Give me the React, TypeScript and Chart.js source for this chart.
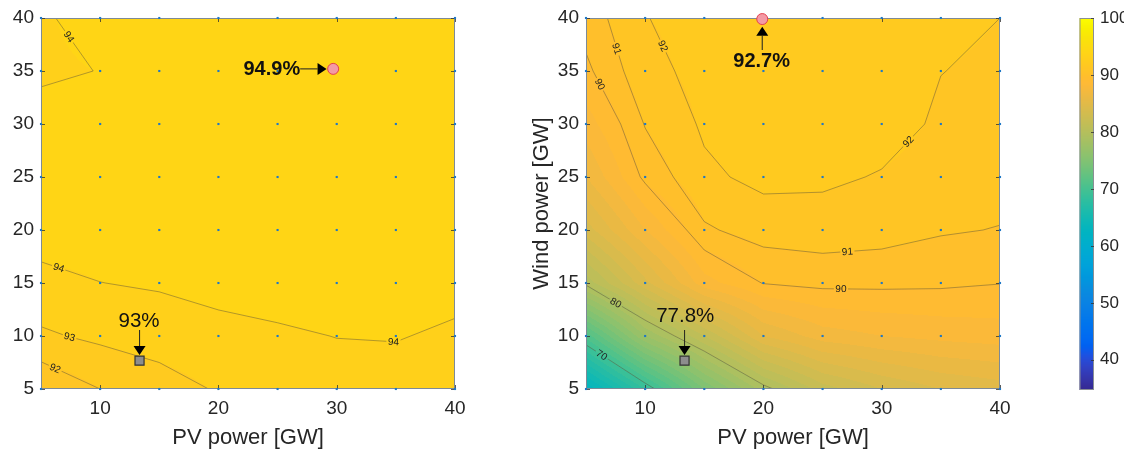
import React, { useEffect, useRef } from "react";
import { Chart, registerables } from "chart.js";

Chart.register(...registerables);

const FONT = '"Liberation Sans", Arial, Helvetica, sans-serif';
const TEXT = "#262626";

// ---- data ----
const PV_GRID = [5, 10, 15, 20, 25, 30, 35, 40];
const WIND_GRID = [5, 10, 15, 20, 25, 30, 35, 40];
const X_TICKS = [10, 20, 30, 40];
const Y_TICKS = [5, 10, 15, 20, 25, 30, 35, 40];
const CBAR_TICKS = [40, 50, 60, 70, 80, 90, 100];
const CBAR_MIN = 34.7;
const CBAR_MAX = 100;
const FILL_STEP = 1;
const CONTOUR_LEVELS = [70, 80, 90, 91, 92, 93, 94];

// rows: wind = 5..40, columns: PV = 5..40 (values in %)
const LEFT_VALUES = [
  [91.1, 92.0, 92.5, 93.1, 93.4, 93.55, 93.6, 93.5],
  [92.85, 93.2, 93.5, 93.7, 93.85, 94.02, 94.05, 93.85],
  [93.7, 93.99, 94.1, 94.31, 94.45, 94.5, 94.45, 94.3],
  [94.45, 94.45, 94.6, 94.7, 94.75, 94.75, 94.7, 94.6],
  [94.5, 94.6, 94.75, 94.8, 94.85, 94.85, 94.8, 94.7],
  [94.35, 94.5, 94.8, 94.85, 94.88, 94.88, 94.85, 94.75],
  [93.85, 94.02, 94.75, 94.85, 94.88, 94.9, 94.85, 94.75],
  [93.9, 94.3, 94.7, 94.8, 94.85, 94.85, 94.8, 94.7],
];

const RIGHT_VALUES = [
  [63.0, 69.0, 75.0, 79.5, 82.5, 84.0, 85.0, 85.5],
  [71.4, 78.0, 82.0, 86.0, 87.5, 88.0, 88.3, 88.5],
  [80.36, 84.7, 88.6, 90.05, 90.3, 90.27, 90.2, 90.03],
  [84.5, 88.0, 90.85, 91.45, 91.55, 91.41, 91.1, 90.96],
  [87.0, 90.27, 91.8, 92.26, 92.18, 91.93, 91.6, 91.4],
  [88.5, 91.06, 92.15, 92.5, 92.5, 92.4, 91.85, 91.65],
  [89.77, 91.7, 92.3, 92.65, 92.6, 92.45, 92.015, 91.85],
  [90.45, 91.97, 92.35, 92.7, 92.6, 92.45, 92.2, 92.0],
];

const LEFT_LABELS = [
  { level: 94, pv: 7.33, wind: 38.2 },
  { level: 94, pv: 6.5, wind: 16.45 },
  { level: 94, pv: 34.8, wind: 9.56 },
  { level: 93, pv: 7.4, wind: 9.87 },
  { level: 92, pv: 6.2, wind: 6.95 },
];

const RIGHT_LABELS = [
  { level: 91, pv: 7.6, wind: 37.1 },
  { level: 92, pv: 11.4, wind: 37.3 },
  { level: 90, pv: 6.1, wind: 33.7 },
  { level: 92, pv: 32.1, wind: 28.5 },
  { level: 91, pv: 27.1, wind: 17.95 },
  { level: 90, pv: 26.55, wind: 14.3 },
  { level: 80, pv: 7.45, wind: 13.0 },
  { level: 70, pv: 6.27, wind: 8.1 },
];

const LEFT_BEST = { pv: 29.7, wind: 35.2, value: "94.9%" };
const LEFT_BASE = { pv: 13.33, wind: 7.67, value: "93%" };
const RIGHT_BEST = { pv: 19.9, wind: 39.9, value: "92.7%" };
const RIGHT_BASE = { pv: 13.33, wind: 7.67, value: "77.8%" };

// ---- colormap (parula) ----
const PARULA = [
[0.2081,0.1663,0.5292],[0.2116,0.1898,0.5777],[0.2123,0.2138,0.6270],[0.2081,0.2386,0.6771],
[0.1959,0.2645,0.7279],[0.1707,0.2919,0.7792],[0.1253,0.3242,0.8303],[0.0591,0.3598,0.8683],
[0.0117,0.3875,0.8820],[0.0060,0.4086,0.8828],[0.0165,0.4266,0.8786],[0.0329,0.4430,0.8720],
[0.0498,0.4586,0.8641],[0.0629,0.4737,0.8554],[0.0723,0.4887,0.8467],[0.0779,0.5040,0.8384],
[0.0793,0.5200,0.8312],[0.0749,0.5375,0.8263],[0.0641,0.5570,0.8240],[0.0488,0.5772,0.8228],
[0.0343,0.5966,0.8199],[0.0265,0.6137,0.8135],[0.0239,0.6287,0.8038],[0.0231,0.6418,0.7913],
[0.0228,0.6535,0.7768],[0.0267,0.6642,0.7607],[0.0384,0.6743,0.7436],[0.0590,0.6838,0.7254],
[0.0843,0.6928,0.7062],[0.1133,0.7015,0.6859],[0.1453,0.7098,0.6646],[0.1801,0.7177,0.6424],
[0.2178,0.7250,0.6193],[0.2586,0.7317,0.5954],[0.3022,0.7376,0.5712],[0.3482,0.7424,0.5473],
[0.3953,0.7459,0.5244],[0.4420,0.7481,0.5033],[0.4871,0.7491,0.4840],[0.5300,0.7491,0.4661],
[0.5709,0.7485,0.4494],[0.6099,0.7473,0.4337],[0.6473,0.7456,0.4188],[0.6834,0.7435,0.4044],
[0.7184,0.7411,0.3905],[0.7525,0.7384,0.3768],[0.7858,0.7356,0.3633],[0.8185,0.7327,0.3498],
[0.8507,0.7299,0.3360],[0.8824,0.7274,0.3217],[0.9139,0.7258,0.3063],[0.9450,0.7261,0.2886],
[0.9739,0.7314,0.2666],[0.9938,0.7455,0.2403],[0.9990,0.7653,0.2164],[0.9955,0.7861,0.1967],
[0.9880,0.8066,0.1794],[0.9789,0.8271,0.1633],[0.9697,0.8481,0.1475],[0.9626,0.8705,0.1309],
[0.9589,0.8949,0.1132],[0.9598,0.9218,0.0948],[0.9661,0.9514,0.0755],[0.9763,0.9831,0.0538]];
const SAT = 1.12;

function colorFor(value: number): number[] {
  const t = Math.max(0, Math.min(1, (value - CBAR_MIN) / (CBAR_MAX - CBAR_MIN)));
  const tt = t * (PARULA.length - 1);
  const i = Math.min(PARULA.length - 2, Math.floor(tt));
  const f = tt - i;
  const c = [0, 1, 2].map((k) => (PARULA[i][k] * (1 - f) + PARULA[i + 1][k] * f) * 255);
  const L = 0.299 * c[0] + 0.587 * c[1] + 0.114 * c[2];
  return c.map((v) => Math.max(0, Math.min(255, Math.round(L + (v - L) * SAT))));
}

function cellIndex(arr: number[], v: number) {
  let i = 0;
  while (i < arr.length - 2 && v > arr[i + 1]) i++;
  return i;
}

function bilinear(Z: number[][], x: number, y: number) {
  const i = cellIndex(PV_GRID, x);
  const j = cellIndex(WIND_GRID, y);
  const u = Math.max(0, Math.min(1, (x - PV_GRID[i]) / (PV_GRID[i + 1] - PV_GRID[i])));
  const v = Math.max(0, Math.min(1, (y - WIND_GRID[j]) / (WIND_GRID[j + 1] - WIND_GRID[j])));
  return (
    Z[j][i] * (1 - u) * (1 - v) +
    Z[j][i + 1] * u * (1 - v) +
    Z[j + 1][i] * (1 - u) * v +
    Z[j + 1][i + 1] * u * v
  );
}

function contourSegments(Z: number[][], L: number) {
  const segs: number[][][] = [];
  for (let j = 0; j < WIND_GRID.length - 1; j++) {
    for (let i = 0; i < PV_GRID.length - 1; i++) {
      const x0 = PV_GRID[i], x1 = PV_GRID[i + 1], y0 = WIND_GRID[j], y1 = WIND_GRID[j + 1];
      const a = Z[j][i], b = Z[j][i + 1], c = Z[j + 1][i + 1], d = Z[j + 1][i];
      const pts: number[][] = [];
      const edge = (va: number, vb: number, pa: number[], pb: number[]) => {
        if ((va >= L) !== (vb >= L)) {
          const t = (L - va) / (vb - va);
          pts.push([pa[0] + t * (pb[0] - pa[0]), pa[1] + t * (pb[1] - pa[1])]);
        }
      };
      edge(a, b, [x0, y0], [x1, y0]);
      edge(b, c, [x1, y0], [x1, y1]);
      edge(c, d, [x1, y1], [x0, y1]);
      edge(d, a, [x0, y1], [x0, y0]);
      if (pts.length === 2) segs.push([pts[0], pts[1]]);
      else if (pts.length === 4) {
        const center = (a + b + c + d) / 4;
        if ((center >= L) === (a >= L)) {
          segs.push([pts[0], pts[1]]);
          segs.push([pts[2], pts[3]]);
        } else {
          segs.push([pts[0], pts[3]]);
          segs.push([pts[1], pts[2]]);
        }
      }
    }
  }
  return segs;
}

function makeFieldPlugin(Z: number[][], labels: any[]) {
  return {
    id: "contourField",
    beforeDatasetsDraw(chart: any) {
      const ctx = chart.ctx;
      const xs = chart.scales.x, ys = chart.scales.y;
      const area = chart.chartArea;
      const dpr = chart.currentDevicePixelRatio || 1;
      const W = Math.round((area.right - area.left) * dpr);
      const H = Math.round((area.bottom - area.top) * dpr);
      const img = ctx.createImageData(W, H);
      const cache = new Map<number, number[]>();
      const xv = new Float64Array(W);
      for (let px = 0; px < W; px++) xv[px] = xs.getValueForPixel(area.left + (px + 0.5) / dpr);
      for (let py = 0; py < H; py++) {
        const yv = ys.getValueForPixel(area.top + (py + 0.5) / dpr);
        for (let px = 0; px < W; px++) {
          const v = bilinear(Z, xv[px], yv);
          const lvl = Math.floor(v / FILL_STEP + 1e-9) * FILL_STEP;
          let c = cache.get(lvl);
          if (!c) { c = colorFor(lvl); cache.set(lvl, c); }
          const o = (py * W + px) * 4;
          img.data[o] = c[0]; img.data[o + 1] = c[1]; img.data[o + 2] = c[2]; img.data[o + 3] = 255;
        }
      }
      ctx.putImageData(img, Math.round(area.left * dpr), Math.round(area.top * dpr));

      // contour lines in pixel space
      const byLevel = new Map<number, number[][][]>();
      for (const L of CONTOUR_LEVELS) {
        byLevel.set(L, contourSegments(Z, L).map((s) => s.map((p) => [xs.getPixelForValue(p[0]), ys.getPixelForValue(p[1])])));
      }
      ctx.save();
      ctx.font = `10px ${FONT}`;
      const placed: any[] = [];
      for (const lb of labels) {
        const segs = byLevel.get(lb.level) || [];
        const tx = xs.getPixelForValue(lb.pv), ty = ys.getPixelForValue(lb.wind);
        let best: any = null;
        for (const s of segs) {
          const [p, q] = s;
          const dx = q[0] - p[0], dy = q[1] - p[1];
          const len2 = dx * dx + dy * dy || 1;
          let t = ((tx - p[0]) * dx + (ty - p[1]) * dy) / len2;
          t = Math.max(0, Math.min(1, t));
          const cx = p[0] + t * dx, cy = p[1] + t * dy;
          const d = (cx - tx) ** 2 + (cy - ty) ** 2;
          if (!best || d < best.d) best = { d, cx, cy, ang: Math.atan2(dy, dx) };
        }
        if (!best) continue;
        let a = best.ang;
        if (a > Math.PI / 2) a -= Math.PI;
        if (a <= -Math.PI / 2) a += Math.PI;
        const text = String(lb.level);
        const w = ctx.measureText(text).width;
        placed.push({ x: best.cx, y: best.cy, a, text, hw: w / 2 + 1.5, hh: 4.5 });
      }
      ctx.restore();

      ctx.save();
      ctx.beginPath();
      ctx.rect(area.left, area.top, area.right - area.left, area.bottom - area.top);
      for (const p of placed) {
        const cs = Math.cos(p.a), sn = Math.sin(p.a);
        const corners = [[-1, -1], [1, -1], [1, 1], [-1, 1]].map(([sx, sy]) => [
          p.x + sx * p.hw * cs - sy * p.hh * sn,
          p.y + sx * p.hw * sn + sy * p.hh * cs,
        ]);
        ctx.moveTo(corners[0][0], corners[0][1]);
        for (let k = 1; k < 4; k++) ctx.lineTo(corners[k][0], corners[k][1]);
        ctx.closePath();
      }
      ctx.clip("evenodd");
      ctx.strokeStyle = "rgba(85,80,60,0.65)";
      ctx.lineWidth = 0.7;
      for (const segs of byLevel.values()) {
        ctx.beginPath();
        for (const s of segs) {
          ctx.moveTo(s[0][0], s[0][1]);
          ctx.lineTo(s[1][0], s[1][1]);
        }
        ctx.stroke();
      }
      ctx.restore();

      ctx.save();
      ctx.fillStyle = "#222";
      ctx.font = `10px ${FONT}`;
      ctx.textAlign = "center";
      ctx.textBaseline = "middle";
      for (const p of placed) {
        ctx.save();
        ctx.translate(p.x, p.y);
        ctx.rotate(p.a);
        ctx.fillText(p.text, 0, 0.5);
        ctx.restore();
      }
      ctx.restore();

      // axes box + inward ticks
      ctx.save();
      ctx.strokeStyle = "#7d8a96";
      ctx.lineWidth = 1;
      ctx.strokeRect(area.left + 0.5, area.top + 0.5, area.right - area.left - 1, area.bottom - area.top - 1);
      ctx.strokeStyle = "#333";
      ctx.lineWidth = 0.8;
      ctx.beginPath();
      for (const v of X_TICKS) {
        const px = Math.round(xs.getPixelForValue(v)) + 0.5;
        ctx.moveTo(px, area.bottom); ctx.lineTo(px, area.bottom - 4);
        ctx.moveTo(px, area.top); ctx.lineTo(px, area.top + 4);
      }
      for (const v of Y_TICKS) {
        const py = Math.round(ys.getPixelForValue(v)) + 0.5;
        ctx.moveTo(area.left, py); ctx.lineTo(area.left + 4, py);
        ctx.moveTo(area.right, py); ctx.lineTo(area.right - 4, py);
      }
      ctx.stroke();
      ctx.restore();
    },
  };
}

function drawArrow(ctx: any, x0: number, y0: number, x1: number, y1: number) {
  const ang = Math.atan2(y1 - y0, x1 - x0);
  const hl = 9, hw = 6;
  const cs = Math.cos(ang), sn = Math.sin(ang);
  const bx = x1 - hl * cs, by = y1 - hl * sn;
  ctx.strokeStyle = "#2e2e22";
  ctx.lineWidth = 1.1;
  ctx.beginPath();
  ctx.moveTo(x0, y0);
  ctx.lineTo(bx, by);
  ctx.stroke();
  ctx.fillStyle = "#000";
  ctx.beginPath();
  ctx.moveTo(x1, y1);
  ctx.lineTo(bx + hw * sn, by - hw * cs);
  ctx.lineTo(bx - hw * sn, by + hw * cs);
  ctx.closePath();
  ctx.fill();
}

function makeNotePlugin(notes: any[]) {
  return {
    id: "notes",
    afterDatasetsDraw(chart: any) {
      const ctx = chart.ctx;
      const xs = chart.scales.x, ys = chart.scales.y;
      ctx.save();
      for (const n of notes) {
        const cx = xs.getPixelForValue(n.m.pv), cy = ys.getPixelForValue(n.m.wind);
        ctx.font = `${n.bold ? "bold " : ""}${n.size}px ${FONT}`;
        ctx.fillStyle = "#111";
        ctx.textAlign = n.align;
        ctx.textBaseline = "middle";
        ctx.fillText(n.m.value, cx + n.tx, cy + n.ty);
        drawArrow(ctx, cx + n.a[0], cy + n.a[1], cx + n.a[2], cy + n.a[3]);
      }
      ctx.restore();
    },
  };
}

const GRID_POINTS = WIND_GRID.flatMap((w) => PV_GRID.map((p) => ({ x: p, y: w })));

function Panel(props: any) {
  const ref = useRef<HTMLCanvasElement>(null);
  useEffect(() => {
    const { values, labels, best, base, notes, yTitle, yAxisWidth, padRight } = props;
    const chart = new Chart(ref.current as HTMLCanvasElement, {
      type: "scatter",
      data: {
        datasets: [
          {
            data: [{ x: best.pv, y: best.wind }],
            pointStyle: "circle",
            pointRadius: 5.5,
            backgroundColor: "#f39aa5",
            borderColor: "#e5404f",
            borderWidth: 1,
            clip: false,
          } as any,
          {
            data: [{ x: base.pv, y: base.wind }],
            pointStyle: "rect",
            pointRadius: 6.4,
            backgroundColor: "#8d8d8d",
            borderColor: "#333",
            borderWidth: 1.2,
            clip: false,
          } as any,
          {
            data: GRID_POINTS,
            pointStyle: "rect",
            pointRadius: 1.5,
            backgroundColor: "#1f78c6",
            borderWidth: 0,
            clip: false,
          } as any,
        ],
      },
      options: {
        responsive: false,
        maintainAspectRatio: false,
        animation: false,
        events: [],
        layout: { padding: { top: 18, right: padRight, left: 0, bottom: 0 } },
        plugins: { legend: { display: false }, tooltip: { enabled: false } },
        scales: {
          x: {
            type: "linear",
            min: 5,
            max: 40,
            afterBuildTicks: (s: any) => { s.ticks = X_TICKS.map((v) => ({ value: v })); },
            ticks: { font: { family: FONT, size: 19 }, color: TEXT, padding: 8.5, maxRotation: 0, autoSkip: false },
            grid: { display: false, drawTicks: false },
            border: { display: false },
            title: { display: true, text: "PV power [GW]", font: { family: FONT, size: 22 }, color: TEXT, padding: { top: 0, bottom: 1.3 } },
            afterFit: (s: any) => { s.height = 63; s.paddingLeft = 0; s.paddingRight = 0; },
          },
          y: {
            type: "linear",
            min: 5,
            max: 40,
            afterBuildTicks: (s: any) => { s.ticks = Y_TICKS.map((v) => ({ value: v })); },
            ticks: { font: { family: FONT, size: 19 }, color: TEXT, padding: 7, autoSkip: false },
            grid: { display: false, drawTicks: false },
            border: { display: false },
            title: yTitle
              ? { display: true, text: yTitle, font: { family: FONT, size: 22 }, color: TEXT, padding: { top: 48.5, bottom: 0 } }
              : { display: false },
            afterFit: (s: any) => { s.width = yAxisWidth; s.paddingTop = 0; s.paddingBottom = 0; },
          },
        },
      } as any,
      plugins: [makeFieldPlugin(values, labels), makeNotePlugin(notes)],
    });
    return () => chart.destroy();
  }, []);
  return (
    <canvas
      ref={ref}
      width={props.width}
      height={452}
      style={{ position: "absolute", left: props.left, top: 0, width: props.width, height: 452 }}
    />
  );
}

const colorbarPlugin = {
  id: "colorbar",
  beforeDatasetsDraw(chart: any) {
    const ctx = chart.ctx;
    const ys = chart.scales.y;
    const area = chart.chartArea;
    ctx.save();
    for (let py = area.top; py < area.bottom; py++) {
      const v = ys.getValueForPixel(py + 0.5);
      const c = colorFor(v);
      ctx.fillStyle = `rgb(${c[0]},${c[1]},${c[2]})`;
      ctx.fillRect(area.left, py, area.right - area.left, 1);
    }
    ctx.strokeStyle = "#8a8f94";
    ctx.lineWidth = 1;
    ctx.strokeRect(area.left + 0.5, area.top + 0.5, area.right - area.left - 1, area.bottom - area.top - 1);
    ctx.strokeStyle = "#333";
    ctx.lineWidth = 0.8;
    ctx.beginPath();
    for (const v of CBAR_TICKS) {
      const py = Math.round(ys.getPixelForValue(v)) + 0.5;
      ctx.moveTo(area.right, py);
      ctx.lineTo(area.right - 3, py);
    }
    ctx.stroke();
    ctx.restore();
  },
};

function ColorBar() {
  const ref = useRef<HTMLCanvasElement>(null);
  useEffect(() => {
    const chart = new Chart(ref.current as HTMLCanvasElement, {
      type: "scatter",
      data: { datasets: [] },
      options: {
        responsive: false,
        maintainAspectRatio: false,
        animation: false,
        events: [],
        layout: { padding: { top: 18, bottom: 62, left: 15.5, right: 0 } },
        plugins: { legend: { display: false }, tooltip: { enabled: false } },
        scales: {
          x: { type: "linear", display: false, min: 0, max: 1 },
          y: {
            type: "linear",
            position: "right",
            min: CBAR_MIN,
            max: CBAR_MAX,
            afterBuildTicks: (s: any) => { s.ticks = CBAR_TICKS.map((v) => ({ value: v })); },
            ticks: { font: { family: FONT, size: 17 }, color: TEXT, padding: 6, autoSkip: false },
            grid: { display: false, drawTicks: false },
            border: { display: false },
            afterFit: (s: any) => { s.width = 30; s.paddingTop = 0; s.paddingBottom = 0; },
          },
        },
      } as any,
      plugins: [colorbarPlugin],
    });
    return () => chart.destroy();
  }, []);
  return (
    <canvas
      ref={ref}
      width={60}
      height={452}
      style={{ position: "absolute", left: 1064, top: 0, width: 60, height: 452 }}
    />
  );
}

export default function App() {
  const leftNotes = [
    { m: LEFT_BEST, bold: true, size: 20, align: "right", tx: -33, ty: 1, a: [-33, 0, -6.6, 0] },
    { m: LEFT_BASE, bold: false, size: 20.5, align: "center", tx: -0.5, ty: -39, a: [0, -30.7, 0, -5.7] },
  ];
  const rightNotes = [
    { m: RIGHT_BEST, bold: true, size: 20, align: "center", tx: -0.6, ty: 42.7, a: [0, 31, 0, 7.7] },
    { m: RIGHT_BASE, bold: false, size: 20.5, align: "center", tx: 0.7, ty: -44, a: [0, -30.7, 0, -5.7] },
  ];
  return (
    <div style={{ position: "absolute", left: 0, top: 0, width: 1142, height: 452, background: "#fff", overflow: "hidden" }}>
      <Panel left={0} width={470} padRight={15} yAxisWidth={41} values={LEFT_VALUES} labels={LEFT_LABELS}
        best={LEFT_BEST} base={LEFT_BASE} notes={leftNotes} yTitle={null} />
      <Panel left={480} width={540} padRight={20} yAxisWidth={106} values={RIGHT_VALUES} labels={RIGHT_LABELS}
        best={RIGHT_BEST} base={RIGHT_BASE} notes={rightNotes} yTitle="Wind power [GW]" />
      <ColorBar />
    </div>
  );
}
